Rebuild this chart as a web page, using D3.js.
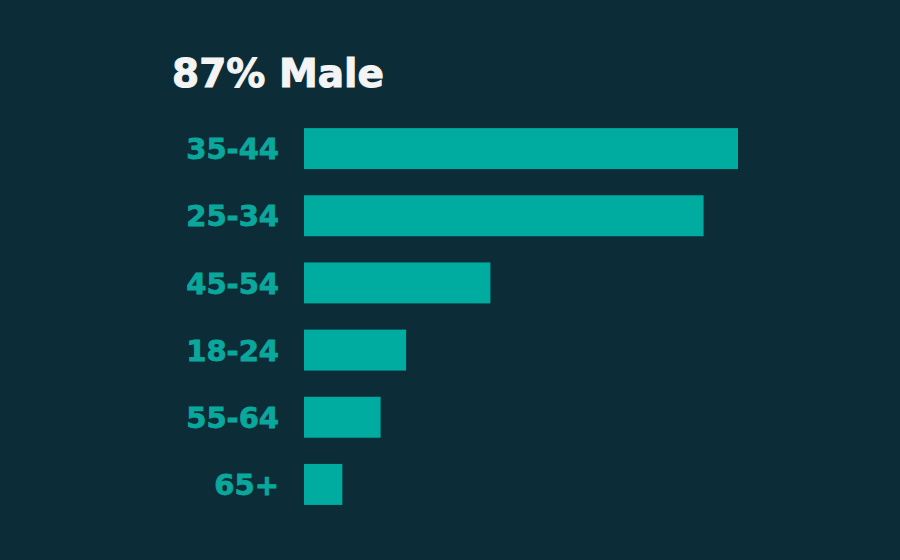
<!DOCTYPE html>
<html>
<head>
<meta charset="utf-8">
<script src="https://cdn.jsdelivr.net/npm/d3@7"></script>
<style>
  html, body { margin: 0; padding: 0; background: #0c2d37; }
  svg { display: block; }
</style>
</head>
<body>
<svg id="chart" width="900" height="560"></svg>
<script>
const TITLE = "87% Male";
const AGE_GROUPS = ["35-44", "25-34", "45-54", "18-24", "55-64", "65+"];
const SHARES = [34, 31.3, 14.6, 8, 6, 3];

const WIDTH = 900;
const HEIGHT = 560;
const BG = "#0c2d37";
const TEAL = "#00ab9f";
const LABEL = "#0aa89c";
const FONT = "'DejaVu Sans', Verdana, sans-serif";

const svg = d3.select("#chart");

svg.append("rect")
  .attr("width", WIDTH)
  .attr("height", HEIGHT)
  .attr("fill", BG);

const xScale = d3.scaleLinear()
  .domain([0, d3.max(SHARES)])
  .range([304, 738]);

const yScale = d3.scaleBand()
  .domain(AGE_GROUPS)
  .range([115, 518])
  .paddingInner(0.39)
  .paddingOuter(0.195);

// heavier look: a thin stroke of the fill colour around the glyphs
svg.append("text")
  .attr("x", 172)
  .attr("y", 87)
  .attr("fill", "#f4f4f4")
  .attr("stroke", "#f4f4f4")
  .attr("stroke-width", 1)
  .style("font-family", FONT)
  .style("font-weight", "bold")
  .style("font-size", "39px")
  .text(TITLE);

const data = AGE_GROUPS.map((age, i) => ({ age, value: SHARES[i] }));

svg.selectAll("rect.bar")
  .data(data)
  .enter()
  .append("rect")
  .attr("class", "bar")
  .attr("x", xScale(0))
  .attr("y", (d) => yScale(d.age))
  .attr("width", (d) => xScale(d.value) - xScale(0))
  .attr("height", yScale.bandwidth())
  .attr("fill", TEAL);

// category labels, right aligned against the bars
svg.append("g")
  .attr("transform", "translate(279, 0)")
  .call(d3.axisLeft(yScale).tickSize(0).tickPadding(0))
  .call((g) => g.select(".domain").remove())
  .selectAll("text")
  .attr("fill", LABEL)
  .attr("stroke", LABEL)
  .attr("stroke-width", 0.8)
  .attr("dy", "0.37em")
  .style("font-family", FONT)
  .style("font-weight", "bold")
  .style("font-size", "29px");
</script>
</body>
</html>
